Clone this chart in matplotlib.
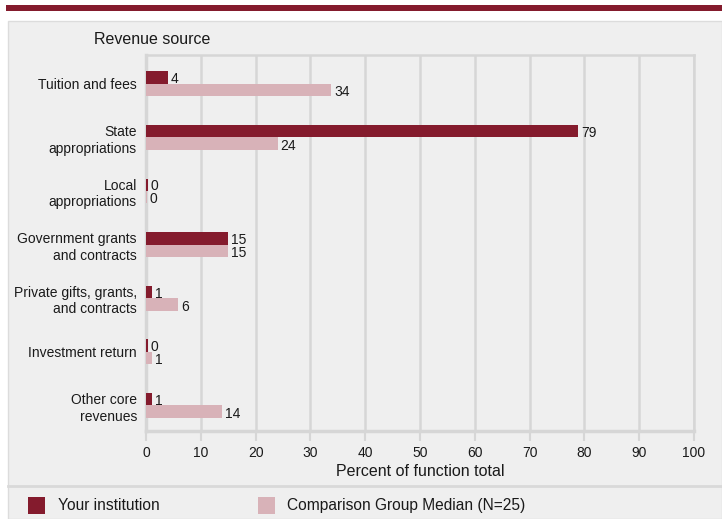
import matplotlib
matplotlib.use("Agg")
import matplotlib.pyplot as plt
from matplotlib.patches import Rectangle
from matplotlib.lines import Line2D

plt.rcParams['font.family'] = ['Liberation Sans', 'DejaVu Sans']

categories = ["Tuition and fees", "State\nappropriations", "Local\nappropriations",
              "Government grants\nand contracts", "Private gifts, grants,\nand contracts",
              "Investment return", "Other core\nrevenues"]
your_values = [4.0, 78.8, 0.3, 14.9, 1.1, 0.3, 1.1]
your_labels = ["4", "79", "0", "15", "1", "0", "1"]
comp_values = [33.8, 24.0, 0.1, 14.9, 5.8, 1.1, 13.8]
comp_labels = ["34", "24", "0", "15", "6", "1", "14"]
series_names = ["Your institution", "Comparison Group Median (N=25)"]
x_ticks = [0, 10, 20, 30, 40, 50, 60, 70, 80, 90, 100]

MAROON = "#841B2D"
PINK = "#D8B2B8"
PANEL = "#EFEFEF"
GRID = "#D6D6D6"
TEXT = "#1A1A1A"
FS = 10

W, H = 722, 519
fig = plt.figure(figsize=(W / 100, H / 100), dpi=100)
fig.patch.set_facecolor("white")

def fx(px):
    return px / W

def fy(py):
    return 1 - py / H

# top band
fig.patches.append(Rectangle((fx(6), fy(11)), fx(722) - fx(6), fy(5) - fy(11),
                             transform=fig.transFigure, facecolor="#841B2D",
                             edgecolor="none", zorder=-2))
# panel
fig.patches.append(Rectangle((fx(8), fy(519)), fx(722) - fx(8), fy(21) - fy(519),
                             transform=fig.transFigure, facecolor=PANEL,
                             edgecolor="#DCDCDC", linewidth=1, zorder=-2))
# separator
fig.lines.append(Line2D([fx(8), fx(722)], [fy(486), fy(486)], transform=fig.transFigure,
                        color="#D9D9D9", linewidth=2, zorder=-1))

ax = fig.add_axes([fx(146), fy(431), fx(694) - fx(146), fy(55) - fy(431)])
ax.set_facecolor(PANEL)
ax.patch.set_alpha(0)

n = len(categories)
y = list(range(n))
bh = 0.232
yours_y = [v - bh / 2 + 0.02 for v in y]
comp_y = [v + bh / 2 + 0.02 for v in y]
ax.barh(yours_y, your_values, height=bh, color=MAROON, zorder=3)
ax.barh(comp_y, comp_values, height=bh, color=PINK, zorder=3)

for yy, v, lab in zip(yours_y, your_values, your_labels):
    ax.text(v + 0.55, yy + 0.03, lab, va="center", ha="left", fontsize=FS, color=TEXT)
for yy, v, lab in zip(comp_y, comp_values, comp_labels):
    ax.text(v + 0.55, yy + 0.04, lab, va="center", ha="left", fontsize=FS, color=TEXT)

ax.set_xlim(0, 100)
ax.set_ylim(n - 0.5, -0.52)
ax.set_xticks(x_ticks)
ax.set_xticklabels([str(t) for t in x_ticks], fontsize=FS, color=TEXT)
ax.set_yticks([v + 0.02 for v in y])
ax.set_yticklabels(categories, fontsize=FS, color=TEXT, multialignment="right",
                   linespacing=1.25)
ax.tick_params(axis="y", length=0, pad=6.5)
ax.tick_params(axis="x", length=7, width=1.5, color=GRID, pad=3.5)
ax.grid(axis="x", color=GRID, linewidth=1.8, zorder=0)
ax.set_axisbelow(True)
for s in ax.spines.values():
    s.set_color(GRID)
    s.set_linewidth(1.8)
ax.spines["left"].set_linewidth(2.5)
ax.spines["bottom"].set_linewidth(2.5)
ax.set_xlabel("Percent of function total", fontsize=11.5, color=TEXT, labelpad=3)

fig.text(fx(94), fy(40), "Revenue source", fontsize=11.5, color=TEXT, va="center", ha="left")

# legend
for x0, color, name, tx in [(28, MAROON, series_names[0], 58), (258, PINK, series_names[1], 287)]:
    fig.patches.append(Rectangle((fx(x0), fy(514)), fx(17), fy(497) - fy(514),
                                 transform=fig.transFigure, facecolor=color,
                                 edgecolor="none", zorder=2))
    fig.text(fx(tx), fy(505.5), name, fontsize=11.2, color=TEXT, va="center", ha="left")

fig.savefig("out.png", dpi=100, facecolor="white")
